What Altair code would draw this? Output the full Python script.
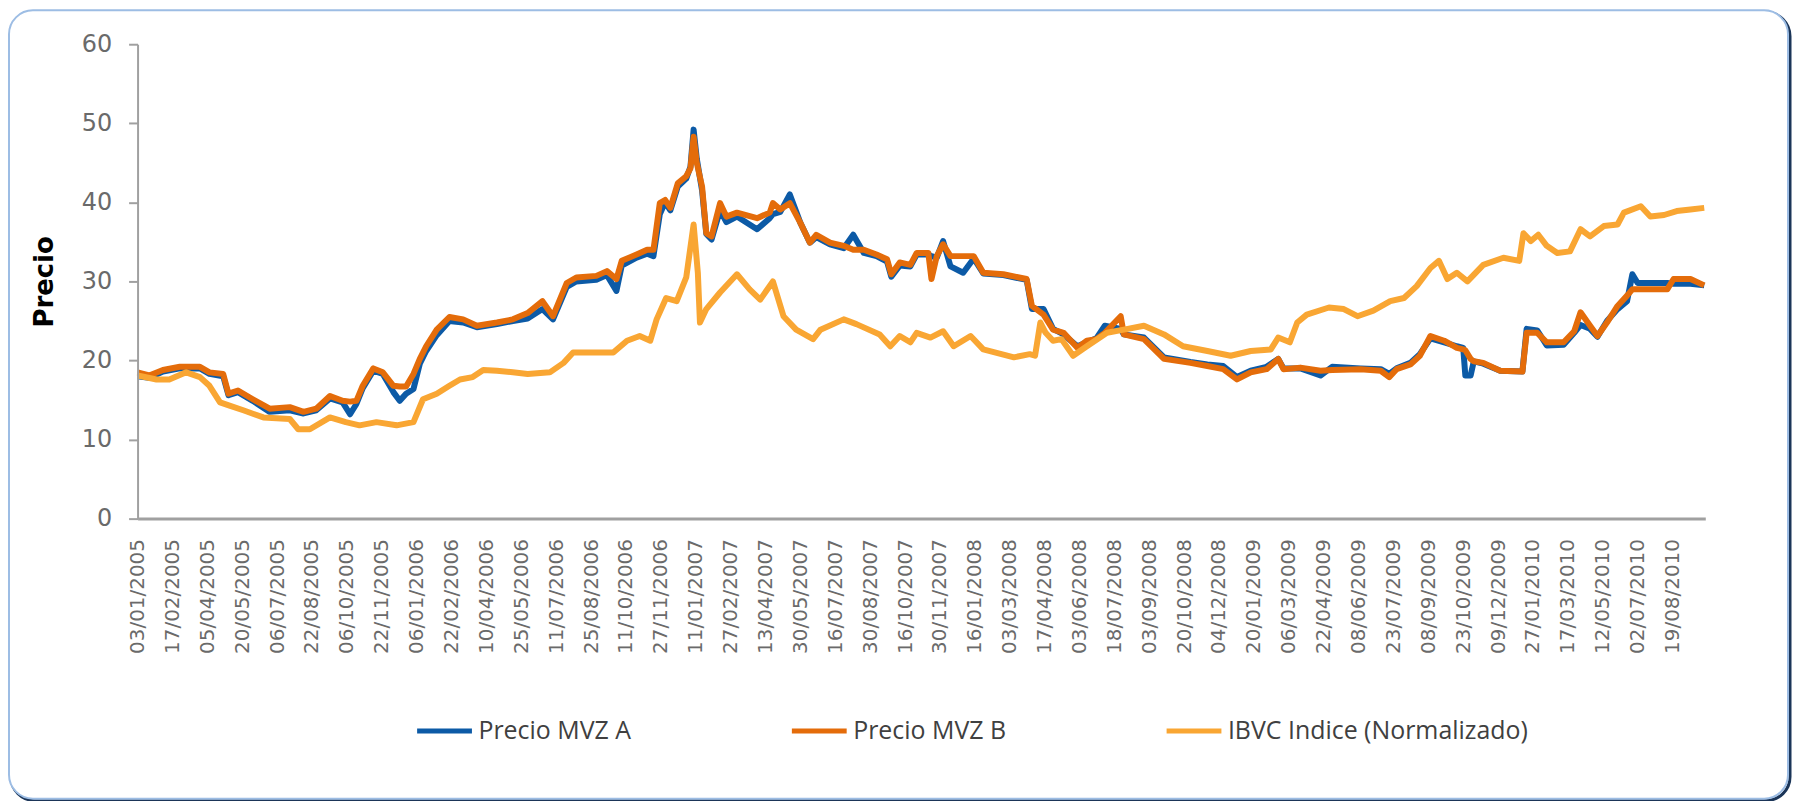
import altair as alt
import pandas as pd

# x-axis category labels (every 33 trading days)
tick_labels = [
    "03/01/2005", "17/02/2005", "05/04/2005", "20/05/2005", "06/07/2005", "22/08/2005",
    "06/10/2005", "22/11/2005", "06/01/2006", "22/02/2006", "10/04/2006", "25/05/2006",
    "11/07/2006", "25/08/2006", "11/10/2006", "27/11/2006", "11/01/2007", "27/02/2007",
    "13/04/2007", "30/05/2007", "16/07/2007", "30/08/2007", "16/10/2007", "30/11/2007",
    "16/01/2008", "03/03/2008", "17/04/2008", "03/06/2008", "18/07/2008", "03/09/2008",
    "20/10/2008", "04/12/2008", "20/01/2009", "06/03/2009", "22/04/2009", "08/06/2009",
    "23/07/2009", "08/09/2009", "23/10/2009", "09/12/2009", "27/01/2010", "17/03/2010",
    "12/05/2010", "02/07/2010", "19/08/2010",
]
label_step = 33
last_day = 1483

# trading-day index for MVZ A / B readings
mvz_days = [
    0, 11, 24, 40, 59, 68, 81, 86, 95, 109, 125, 144, 157, 169, 182, 194, 201, 207, 213, 223,
    232, 242, 248, 254, 261, 267, 273, 283, 295, 308, 321, 340, 355, 369, 383, 393, 406, 415, 434, 444,
    453, 458, 472, 482, 488, 494, 499, 504, 511, 519, 523, 526, 529, 534, 538, 543, 551, 557, 567, 586,
    598, 601, 608, 617, 627, 636, 642, 655, 668, 677, 687, 699, 709, 713, 721, 731, 737, 748, 751, 756,
    762, 769, 781, 791, 800, 819, 841, 846, 857, 866, 876, 889, 898, 907, 915, 930, 933, 952, 971, 996,
    1012, 1027, 1040, 1053, 1068, 1079, 1084, 1100, 1119, 1130, 1157, 1176, 1184, 1191, 1204, 1213, 1223, 1236, 1248, 1254,
    1256, 1261, 1264, 1273, 1289, 1310, 1314, 1324, 1333, 1349, 1359, 1365, 1374, 1381, 1390, 1400, 1409, 1414, 1419, 1447,
    1453, 1469, 1482,
]
precio_b = [
    18.5, 18.1, 18.8, 19.2, 19.2, 18.5, 18.3, 15.8, 16.2, 15.1, 13.9, 14.1, 13.5, 13.9, 15.5, 14.9, 14.8, 14.9, 16.8, 19.0,
    18.5, 16.8, 16.7, 16.7, 18.3, 20.2, 21.8, 23.9, 25.5, 25.2, 24.4, 24.8, 25.2, 26.0, 27.5, 25.6, 29.8, 30.5, 30.7, 31.3,
    30.3, 32.6, 33.4, 34.0, 34.0, 39.9, 40.3, 39.3, 42.4, 43.3, 44.3, 48.3, 45.0, 42.0, 36.1, 35.7, 39.9, 38.2, 38.7, 38.0,
    38.7, 39.9, 39.1, 39.9, 37.4, 34.9, 35.9, 34.9, 34.5, 34.0, 34.0, 33.4, 32.8, 30.9, 32.4, 32.1, 33.6, 33.6, 30.3, 33.2,
    34.7, 33.2, 33.2, 33.2, 31.1, 30.9, 30.3, 26.9, 25.8, 23.9, 23.5, 21.6, 22.5, 22.7, 23.5, 25.6, 23.3, 22.7, 20.2, 19.7,
    19.3, 18.9, 17.6, 18.5, 18.9, 20.2, 18.9, 19.1, 18.7, 18.8, 18.9, 18.7, 17.9, 18.9, 19.5, 20.6, 23.1, 22.5, 21.6, 21.4,
    21.3, 20.2, 19.9, 19.7, 18.7, 18.6, 23.5, 23.5, 22.3, 22.3, 23.7, 26.1, 24.4, 23.1, 24.8, 26.9, 28.2, 29.0, 29.0, 29.0,
    30.3, 30.3, 29.5,
]
precio_a = [
    18.0, 17.8, 18.6, 19.0, 19.0, 18.3, 18.0, 15.6, 16.0, 14.9, 13.5, 13.7, 13.3, 13.7, 15.2, 14.7, 13.2, 14.5, 16.5, 18.7,
    18.3, 16.0, 14.9, 15.8, 16.4, 19.6, 21.2, 23.2, 25.0, 24.8, 24.2, 24.6, 25.0, 25.3, 26.5, 25.2, 29.3, 30.0, 30.2, 30.8,
    28.8, 32.0, 33.0, 33.5, 33.2, 38.5, 40.0, 39.0, 42.0, 43.0, 44.5, 49.2, 45.5, 41.5, 36.0, 35.3, 39.0, 37.5, 38.2, 36.6,
    38.0, 38.5, 38.8, 41.0, 37.4, 34.9, 35.6, 34.7, 34.2, 35.9, 33.6, 33.2, 32.5, 30.6, 32.0, 31.9, 33.4, 33.4, 33.2, 33.0,
    35.1, 31.9, 31.1, 32.9, 31.0, 30.8, 30.2, 26.5, 26.5, 24.0, 23.3, 21.8, 22.3, 22.8, 24.4, 24.0, 23.3, 22.9, 20.4, 19.8,
    19.5, 19.3, 17.9, 18.7, 19.2, 20.2, 19.0, 19.0, 18.1, 19.2, 19.0, 18.9, 18.3, 19.0, 19.7, 20.8, 22.8, 22.3, 21.8, 21.6,
    18.1, 18.1, 19.9, 19.6, 18.7, 18.6, 24.0, 23.8, 21.9, 22.0, 23.5, 24.5, 24.0, 23.0, 25.0, 26.5, 27.5, 30.9, 29.8, 29.8,
    29.7, 29.7, 29.5,
]

# IBVC index (normalised) readings
ibvc_days = [
    0, 18, 30, 46, 59, 68, 78, 87, 100, 119, 144, 152, 163, 182, 197, 210, 226, 245, 261, 270,
    283, 295, 305, 317, 327, 340, 355, 369, 390, 403, 412, 450, 463, 475, 485, 491, 500, 510, 519, 526,
    530, 532, 538, 551, 567, 579, 589, 601, 611, 623, 639, 646, 668, 680, 702, 712, 721, 731, 737, 750,
    762, 772, 788, 800, 829, 844, 849, 854, 859, 866, 874, 885, 898, 917, 933, 952, 971, 989, 1012, 1034,
    1053, 1072, 1079, 1090, 1097, 1106, 1127, 1141, 1154, 1169, 1185, 1198, 1210, 1223, 1231, 1239, 1248, 1258, 1273, 1292,
    1307, 1311, 1318, 1325, 1333, 1343, 1355, 1365, 1374, 1387, 1400, 1406, 1422, 1431, 1444, 1456, 1469, 1482,
]
ibvc_values = [
    18.1, 17.6, 17.6, 18.5, 17.9, 16.8, 14.7, 14.3, 13.7, 12.8, 12.6, 11.3, 11.3, 12.8, 12.2, 11.8, 12.2, 11.8, 12.2, 15.1,
    15.8, 16.8, 17.6, 17.9, 18.8, 18.7, 18.5, 18.3, 18.5, 19.7, 21.0, 21.0, 22.5, 23.1, 22.5, 25.2, 27.9, 27.5, 30.5, 37.2,
    31.1, 24.8, 26.5, 28.6, 30.9, 29.0, 27.7, 30.0, 25.6, 23.9, 22.7, 23.9, 25.2, 24.6, 23.3, 21.8, 23.1, 22.3, 23.5, 22.9,
    23.7, 21.8, 23.1, 21.4, 20.4, 20.8, 20.6, 24.8, 23.5, 22.5, 22.7, 20.6, 21.8, 23.5, 23.9, 24.4, 23.3, 21.8, 21.2, 20.6,
    21.2, 21.4, 22.9, 22.3, 24.8, 25.8, 26.7, 26.5, 25.6, 26.3, 27.5, 27.9, 29.4, 31.7, 32.6, 30.3, 31.1, 30.0, 32.1, 33.0,
    32.6, 36.1, 35.1, 35.9, 34.5, 33.6, 33.8, 36.6, 35.7, 37.0, 37.2, 38.7, 39.5, 38.2, 38.4, 38.9, 39.1, 39.3,
]

series_names = ["Precio MVZ A", "Precio MVZ B", "IBVC Indice (Normalizado)"]
series_colors = ["#0C5AA6", "#E46C0A", "#F9A633"]
y_ticks = [0, 10, 20, 30, 40, 50, 60]

df_a = pd.DataFrame({"dia": mvz_days, "precio": precio_a, "serie": series_names[0]})
df_b = pd.DataFrame({"dia": mvz_days, "precio": precio_b, "serie": series_names[1]})
df_i = pd.DataFrame({"dia": ibvc_days, "precio": ibvc_values, "serie": series_names[2]})

W, H = 1573, 476

label_js = "[" + ",".join("'%s'" % t for t in tick_labels) + "]"
x_enc = alt.X(
    "dia:Q",
    scale=alt.Scale(domain=[0, last_day], nice=False, zero=False),
    axis=alt.Axis(
        values=[i * label_step for i in range(len(tick_labels))],
        labelExpr=label_js + "[round(datum.value / %d)]" % label_step,
        labelAngle=270, labelAlign="right", labelBaseline="middle",
        labelFont="DejaVu Sans", labelFontSize=20, labelColor="#6A6A6A",
        labelPadding=20, labelOverlap=False, labelBound=False,
        ticks=False, grid=False, domainColor="#A0A0A0", domainWidth=3,
        title=None, zindex=2,
    ),
)
y_enc = alt.Y(
    "precio:Q",
    scale=alt.Scale(domain=[0, 60], nice=False),
    axis=alt.Axis(
        values=y_ticks, title="Precio",
        titleFont="DejaVu Sans", titleFontSize=26, titleFontWeight="bold",
        titleColor="#000000", titlePadding=24,
        labelFont="DejaVu Sans", labelFontSize=24, labelColor="#6A6A6A",
        labelPadding=17, tickSize=9, tickWidth=2, tickColor="#A0A0A0",
        domainColor="#A0A0A0", domainWidth=2, grid=False, zindex=2,
    ),
)
color_enc = alt.Color(
    "serie:N",
    scale=alt.Scale(domain=series_names, range=series_colors),
    legend=alt.Legend(
        title=None, orient="none", legendX=278, legendY=659,
        direction="horizontal", symbolType="stroke", symbolSize=3025,
        symbolStrokeWidth=5, labelFont="Open Sans", labelFontSize=25,
        labelColor="#404040", labelLimit=0, columnPadding=150, labelOffset=4,
    ),
)

frame_df = pd.DataFrame({"k": [0]})
shadow = alt.Chart(frame_df).mark_rect(
    cornerRadius=24, fill="transparent", stroke="#1B3558", strokeWidth=3
).encode(x=alt.value(-127), x2=alt.value(1658), y=alt.value(-32), y2=alt.value(759))
frame = alt.Chart(frame_df).mark_rect(
    cornerRadius=24, fill="#FFFFFF", stroke="#9DBDE4", strokeWidth=2
).encode(x=alt.value(-129), x2=alt.value(1656), y=alt.value(-34), y2=alt.value(757))

def line(df):
    return alt.Chart(df).mark_line(strokeWidth=6, strokeJoin="round").encode(
        x=x_enc, y=y_enc, color=color_enc
    )

chart = alt.layer(
    shadow, frame, line(df_a), line(df_b), line(df_i)
).properties(width=W, height=H, padding=0).configure_view(stroke=None).configure(background="#FFFFFF")

chart.save("out.html", embed_options={"renderer": "svg", "actions": False})
